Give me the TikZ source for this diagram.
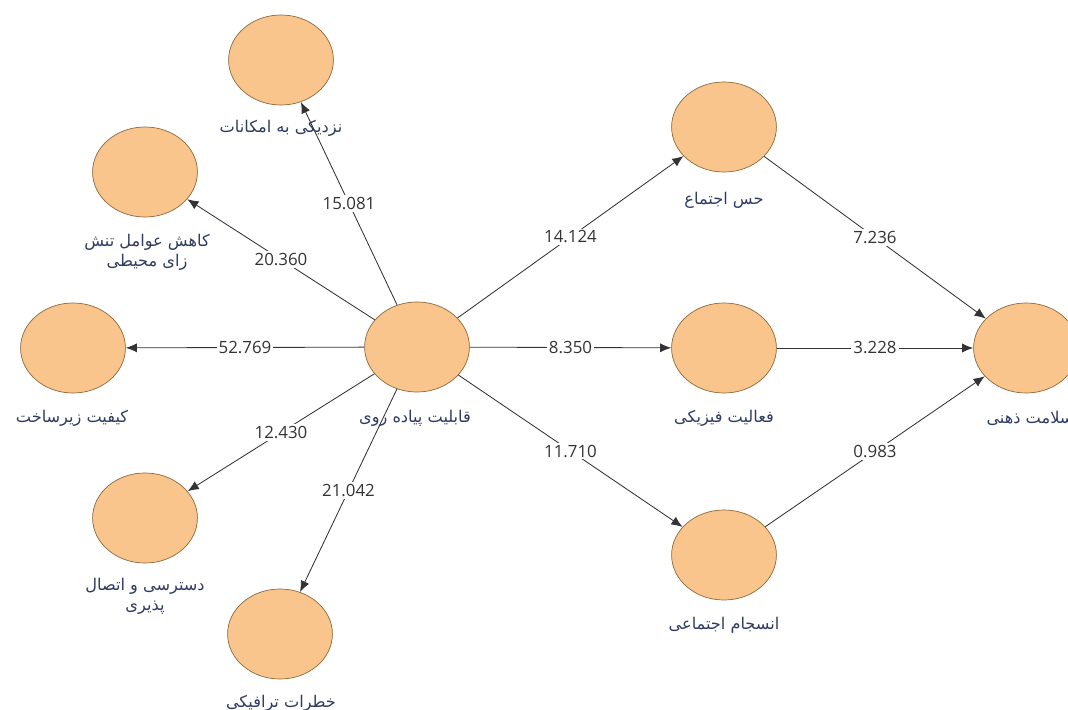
\documentclass[tikz,border=0pt]{standalone}
\usepackage{fontspec}
\setmainfont{Open Sans}
\newfontfamily\fa[Script=Arabic]{DejaVu Sans}
\TeXXeTstate=1
\usetikzlibrary{arrows.meta,shapes.geometric}
\definecolor{kreis}{HTML}{FAC58C}
\definecolor{rand}{HTML}{8C6A3C}
\definecolor{schrift}{HTML}{2E3B62}
\definecolor{linie}{HTML}{333333}
\newcommand{\fat}[1]{{\fa\beginR #1\endR}}
\tikzset{
  konstrukt/.style={ellipse,fill=kreis,draw=rand,line width=0.5pt,minimum width=2.62cm,minimum height=2.25cm,inner sep=0pt},
  name lbl/.style={text=schrift,font=\fontsize{11.5}{14}\selectfont,align=center},
  pfeil/.style={-{Latex[length=2.8mm,width=2.3mm]},linie,line width=0.6pt},
  wert/.style={fill=white,inner sep=1.5pt,font=\fontsize{12}{14}\selectfont,text=black!80,pos=0.5},
}
\begin{document}
\begin{tikzpicture}[x=0.025cm,y=-0.025cm]
  \useasboundingbox (0,0) rectangle (1068,710);
  % konstrukte
  \node[konstrukt] (walk) at (417,347) {};
  \node[konstrukt] (nazd) at (281,60) {};
  \node[konstrukt] (kahe) at (145,172) {};
  \node[konstrukt] (keyf) at (73,348) {};
  \node[konstrukt] (dast) at (145,518) {};
  \node[konstrukt] (khat) at (280,634) {};
  \node[konstrukt] (hess) at (724,127) {};
  \node[konstrukt] (faal) at (724,348) {};
  \node[konstrukt] (ense) at (724,555) {};
  \node[konstrukt] (sala) at (1026,348) {};
  % namen
  \node[name lbl] (walkL) at (415,418) {\fat{قابلیت پیاده روی}};
  \node[name lbl] (nazdL) at (281,128) {\fat{نزدیکی به امکانات}};
  \node[name lbl] (kaheL) at (147,252) {\fat{کاهش عوامل تنش}\\\fat{زای محیطی}};
  \node[name lbl] (keyfL) at (72,418) {\fat{کیفیت زیرساخت}};
  \node[name lbl] (dastL) at (145,596) {\fat{دسترسی و اتصال}\\\fat{پذیری}};
  \node[name lbl] (khatL) at (281,703) {\fat{خطرات ترافیکی}};
  \node[name lbl] (hessL) at (724,200) {\fat{حس اجتماع}};
  \node[name lbl] (faalL) at (724,418) {\fat{فعالیت فیزیکی}};
  \node[name lbl] (enseL) at (724,625) {\fat{انسجام اجتماعی}};
  \node[name lbl] (salaL) at (1030,418) {\fat{سلامت ذهنی}};
  % pfade
  \draw[pfeil] (walk) -- node[wert]{15.081} (nazd);
  \draw[pfeil] (walk) -- node[wert]{20.360} (kahe);
  \draw[pfeil] (walk) -- node[wert]{52.769} (keyf);
  \draw[pfeil] (walk) -- node[wert]{12.430} (dast);
  \draw[pfeil] (walk) -- node[wert]{21.042} (khat);
  \draw[pfeil] (walk) -- node[wert]{14.124} (hess);
  \draw[pfeil] (walk) -- node[wert]{8.350} (faal);
  \draw[pfeil] (walk) -- node[wert]{11.710} (ense);
  \draw[pfeil] (hess) -- node[wert]{7.236} (sala);
  \draw[pfeil] (faal) -- node[wert]{3.228} (sala);
  \draw[pfeil] (ense) -- node[wert]{0.983} (sala);
\end{tikzpicture}
\end{document}
